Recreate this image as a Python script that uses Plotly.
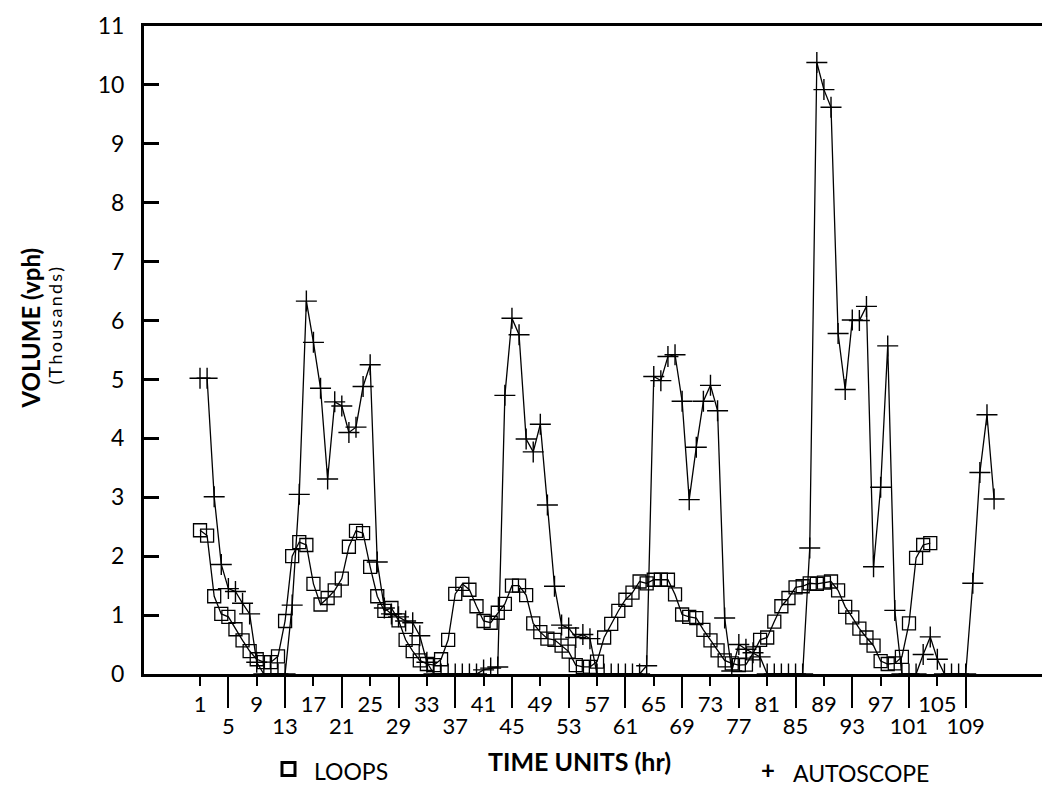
import plotly.graph_objects as go

# ---------------- data ----------------
loops_hours = list(range(1, 105))
loops_volume = [
    2.44, 2.35, 1.32, 1.02, 0.97, 0.76, 0.57, 0.39, 0.25, 0.20,
    0.20, 0.30, 0.90, 2.00, 2.24, 2.19, 1.53, 1.18, 1.29, 1.42,
    1.62, 2.16, 2.43, 2.39, 1.82, 1.32, 1.07, 1.12, 0.91, 0.58,
    0.39, 0.23, 0.17, 0.15, 0.25, 0.58, 1.36, 1.53, 1.43, 1.15,
    0.90, 0.87, 1.04, 1.19, 1.50, 1.50, 1.34, 0.86, 0.71, 0.60,
    0.58, 0.48, 0.38, 0.15, 0.12, 0.12, 0.21, 0.62, 0.85, 1.07,
    1.26, 1.38, 1.57, 1.54, 1.60, 1.60, 1.60, 1.35, 1.01, 0.97,
    0.95, 0.75, 0.57, 0.40, 0.23, 0.18, 0.15, 0.16, 0.35, 0.58,
    0.62, 0.89, 1.15, 1.29, 1.47, 1.49, 1.54, 1.53, 1.55, 1.57,
    1.42, 1.14, 0.96, 0.77, 0.62, 0.48, 0.22, 0.17, 0.18, 0.29,
    0.86, 1.97, 2.19, 2.22,
]

auto_hours = list(range(1, 114))
auto_volume = [
    5.02, 5.02, 3.01, 1.86, 1.45, 1.40, 1.20, 1.02, 0.20, 0.00,
    0.00, 0.00, 0.00, 1.17, 3.05, 6.33, 5.63, 4.85, 3.31, 4.62,
    4.55, 4.10, 4.19, 4.88, 5.25, 1.90, 1.12, 1.02, 0.97, 0.90,
    0.87, 0.65, 0.20, 0.00, 0.00, 0.00, 0.00, 0.00, 0.00, 0.00,
    0.07, 0.10, 0.12, 4.73, 6.04, 5.76, 3.99, 3.77, 4.24, 2.87,
    1.49, 0.83, 0.78, 0.62, 0.67, 0.60, 0.00, 0.00, 0.00, 0.00,
    0.00, 0.00, 0.00, 0.14, 5.05, 4.98, 5.39, 5.42, 4.63, 2.96,
    3.85, 4.63, 4.90, 4.47, 0.95, 0.05, 0.50, 0.42, 0.36, 0.29,
    0.00, 0.00, 0.00, 0.00, 0.00, 0.00, 2.14, 10.38, 9.92, 9.62,
    5.78, 4.83, 6.01, 6.00, 6.24, 1.82, 3.17, 5.57, 1.08, 0.00,
    0.00, 0.00, 0.33, 0.63, 0.25, 0.00, 0.00, 0.00, 0.00, 1.54,
    3.42, 4.40, 2.97,
]

x_ticks_upper = list(range(1, 106, 8))    # 1, 9, 17, ... 105
x_ticks_lower = list(range(5, 110, 8))    # 5, 13, 21, ... 109
y_ticks = list(range(0, 12))

# ---------------- figure ----------------
FONT = "Lato"
fig = go.Figure()

fig.add_trace(go.Scatter(
    x=loops_hours, y=loops_volume, mode="lines+markers", name="LOOPS",
    line=dict(color="black", width=1.3),
    marker=dict(symbol="square-open", size=13, color="black",
                line=dict(color="black", width=1.3)),
    showlegend=False,
))
fig.add_trace(go.Scatter(
    x=auto_hours, y=auto_volume, mode="lines+markers", name="AUTOSCOPE",
    line=dict(color="black", width=1.3),
    marker=dict(symbol="cross-thin-open", size=15, color="black",
                line=dict(color="black", width=1.4)),
    showlegend=False,
))
# carrier trace for the secondary (staggered) x tick row
fig.add_trace(go.Scatter(x=[], y=[], xaxis="x2", showlegend=False,
                         hoverinfo="skip"))

xr = [-6.9, 119.76]
fig.update_layout(
    width=1053, height=793,
    margin=dict(l=144, r=11, t=16, b=119),
    paper_bgcolor="white", plot_bgcolor="white",
    font=dict(family=FONT, color="black"),
    xaxis=dict(
        range=xr, showgrid=False, zeroline=False,
        showline=True, linecolor="black", linewidth=3, mirror=True,
        tickmode="array", tickvals=x_ticks_upper,
        ticktext=[str(v) for v in x_ticks_upper],
        ticks="outside", ticklen=9, tickwidth=1.5, tickcolor="black",
        tickfont=dict(family=FONT, size=22, color="black"),
        ticklabelstandoff=0,
    ),
    xaxis2=dict(
        range=xr, overlaying="x", anchor="y", side="bottom",
        showgrid=False, zeroline=False, showline=False,
        tickmode="array", tickvals=x_ticks_lower,
        ticktext=[str(v) for v in x_ticks_lower],
        ticks="outside", ticklen=33, tickwidth=1.5, tickcolor="black",
        tickfont=dict(family=FONT, size=22, color="black"),
        ticklabelstandoff=0,
    ),
    yaxis=dict(
        range=[0, 11], showgrid=False, zeroline=False,
        showline=True, linecolor="black", linewidth=3, mirror=False,
        tickmode="array", tickvals=y_ticks,
        ticks="inside", ticklen=15, tickwidth=2.5, tickcolor="black",
        tickfont=dict(family=FONT, size=23, color="black"),
        ticklabelstandoff=12,
    ),
)

def px_x(px):
    return (px - 144) / 898.0

def px_y(py):
    return (674 - py) / 658.3

annotations = [
    dict(text="<b>VOLUME (vph)</b>", x=px_x(31), y=px_y(322), textangle=-90,
         font=dict(family=FONT, size=24)),
    dict(text="(\u2009T\u2009h\u2009o\u2009u\u2009s\u2009a\u2009n\u2009d\u2009s\u2009)",
         x=px_x(55), y=px_y(320), textangle=-90,
         font=dict(family=FONT, size=18)),
    dict(text="<b>TIME UNITS (hr)</b>", x=px_x(579), y=px_y(762),
         font=dict(family=FONT, size=25)),
    dict(text="LOOPS", x=px_x(312), y=px_y(773), xanchor="left",
         font=dict(family=FONT, size=23)),
    dict(text="<b>+</b>", x=px_x(768), y=px_y(771),
         font=dict(family=FONT, size=24)),
    dict(text="AUTOSCOPE", x=px_x(791), y=px_y(775), xanchor="left",
         font=dict(family=FONT, size=23)),
]
for a in annotations:
    a.setdefault("xanchor", "center")
    a.update(xref="paper", yref="paper", yanchor="middle", showarrow=False)
fig.update_layout(annotations=annotations)

fig.add_shape(type="rect", xref="paper", yref="paper",
              x0=px_x(282), x1=px_x(295), y0=px_y(777), y1=px_y(764),
              line=dict(color="black", width=3), fillcolor="rgba(0,0,0,0)")

fig.write_html("out.html")
